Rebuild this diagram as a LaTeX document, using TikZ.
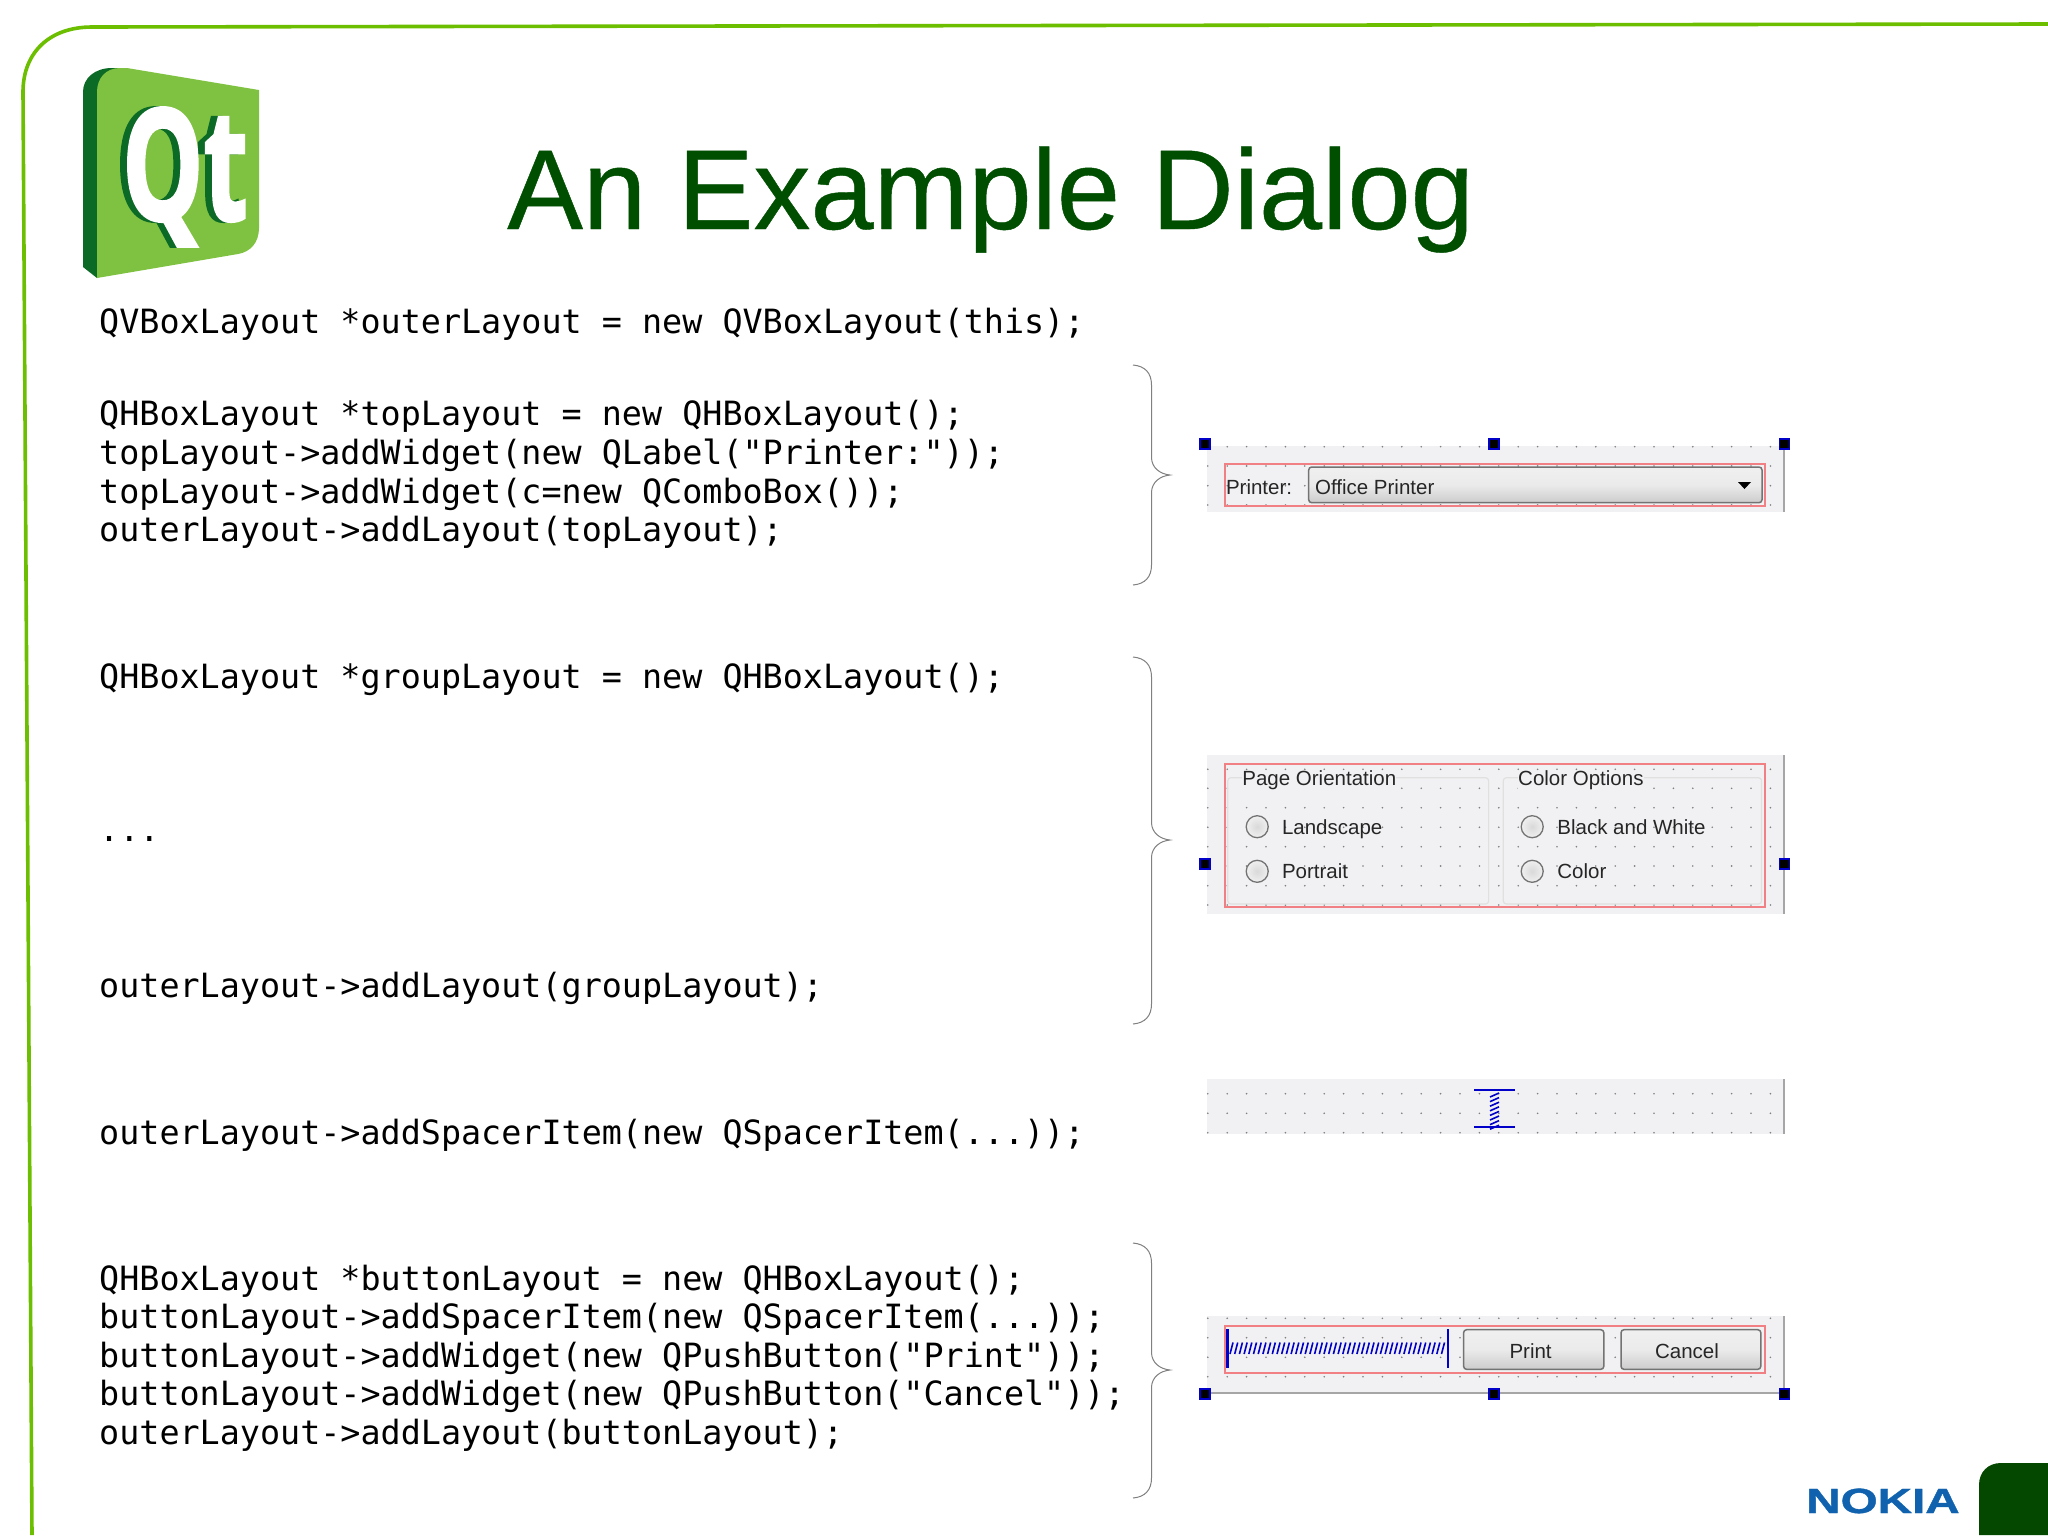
\documentclass[tikz,border=0pt]{standalone}
\usepackage{fontspec}
\setmainfont{Liberation Sans}
\setmonofont{DejaVu Sans Mono}
\newfontfamily\titlefont[FakeBold=.4]{Liberation Sans}
\newfontfamily\nokiafont[BoldFeatures={FakeBold=1}]{Liberation Sans}
\newfontfamily\logofont[BoldFeatures={FakeBold=2}]{Open Sans}
\definecolor{slidegreen}{HTML}{004F00}
\definecolor{framegreen}{HTML}{6CBE00}
\definecolor{logogreen}{HTML}{7FC241}
\definecolor{logodark}{HTML}{0B6A25}
\definecolor{tabgreen}{HTML}{044800}
\definecolor{nokiablue}{HTML}{1062AE}
\definecolor{panelgray}{HTML}{F1F1F3}
\definecolor{layoutred}{HTML}{F08084}
\definecolor{springblue}{HTML}{0000C8}
\tikzset{
    codeline/.style={anchor=base west, inner sep=0pt, font=\ttfamily\fontsize{33.4}{38.6}\selectfont},
    formtext/.style={anchor=base west, inner sep=0pt, text=black!85, font=\fontsize{20.5}{24}\selectfont},
    logotext/.style={anchor=base west, inner sep=0pt, transform shape, xscale=.66, font=\logofont\bfseries\fontsize{155}{155}\selectfont},
    curlybrace/.style={draw=gray, line width=1pt},
    griddot/.style={fill=black!50},
    panelbox/.style={fill=panelgray},
    panelline/.style={draw=black!35, line width=1.6pt},
    layoutbox/.style={draw=layoutred, line width=2pt},
    handlebox/.style={draw=springblue, fill=black, line width=1.6pt, minimum size=10pt, inner sep=0pt},
    pushbox/.style={draw=black!55, line width=1.5pt, rounded corners=3pt, top color=black!6, bottom color=black!20, middle color=black!8},
    groupbox/.style={draw=black!12, line width=1.2pt, rounded corners=3pt},
    radiobox/.style={circle, draw=black!55, line width=1.3pt, inner color=black!15, outer color=black!6, minimum size=22pt, inner sep=0pt},
    springline/.style={draw=springblue, line width=1.6pt},
}
% rows of the form grid, y values given in #1
\newcommand{\griddots}[1]{
    \foreach \y in {#1}
        \foreach \x in {0,...,29}
            \fill[griddot] (1207.8+\x*19.4,\y) circle (0.9);
}
% brace from top #1 to bottom #3, with its tip at #2
\newcommand{\codebrace}[3]{
    \draw[curlybrace] (1133,#1) .. controls (1145,#1+1) and (1151.5,#1+8) .. (1151.5,#1+20)
        -- (1151.5,#2-17) .. controls (1152,#2-7) and (1160,#2-1) .. (1170,#2)
        .. controls (1160,#2+1) and (1152,#2+7) .. (1151.5,#2+17)
        -- (1151.5,#3-20) .. controls (1151.5,#3-8) and (1145,#3-1) .. (1133,#3);
}
\begin{document}
\begin{tikzpicture}[x=1pt,y=-1pt]
    \useasboundingbox (0,0) rectangle (2048,1535);
    \fill[white] (0,0) rectangle (2048,1535);

    % slide frame
    \draw[framegreen, line width=3.6pt] (32,1535) -- (23,92) .. controls (23,52) and (50,27) .. (92,27) -- (2048,24);
    \fill[tabgreen] (2048,1535) -- (1979,1535) -- (1979,1485) .. controls (1979,1472) and (1988,1463) .. (2001,1463) -- (2048,1463) -- cycle;
    \node[anchor=base west, inner sep=0pt, text=nokiablue, transform shape, xscale=1.36, font=\nokiafont\bfseries\fontsize{35}{35}\selectfont] (nokia) at (1806,1513) {NOKIA};

    % logo
    \fill[logodark] (83,267) -- (83,92) .. controls (83,78) and (95,68) .. (112,68) -- (120,68) -- (97,278) -- cycle;
    \fill[logogreen] (97,278) -- (97,92) .. controls (97,78) and (106,68) .. (120,68) -- (127,68) -- (259,90) -- (259,228) .. controls (259,243) and (250,252) .. (238,254) -- cycle;
    \node[logotext, text=logodark] (qtshadow) at (115,220) {Qt};
    \node[logotext, text=white] (qt) at (122,220) {Qt};

    \node[anchor=base west, inner sep=0pt, text=slidegreen, font=\titlefont\fontsize{113.7}{113.7}\selectfont] (title) at (507,229) {An Example Dialog};

    % code
    \node[codeline] (outer) at (99,333) {QVBoxLayout *outerLayout = new QVBoxLayout(this);};

    \node[codeline] (top1) at (99,425.5) {QHBoxLayout *topLayout = new QHBoxLayout();};
    \node[codeline] (top2) at (99,464.1) {topLayout->addWidget(new QLabel("Printer:"));};
    \node[codeline] (top3) at (99,503) {topLayout->addWidget(c=new QComboBox());};
    \node[codeline] (top4) at (99,541.5) {outerLayout->addLayout(topLayout);};

    \node[codeline] (group1) at (99,688) {QHBoxLayout *groupLayout = new QHBoxLayout();};
    \node[codeline] (group2) at (99,841) {...};
    \node[codeline] (group3) at (99,997.5) {outerLayout->addLayout(groupLayout);};

    \node[codeline] (spacer) at (99,1144) {outerLayout->addSpacerItem(new QSpacerItem(...));};

    \node[codeline] (button1) at (99,1290) {QHBoxLayout *buttonLayout = new QHBoxLayout();};
    \node[codeline] (button2) at (99,1328.6) {buttonLayout->addSpacerItem(new QSpacerItem(...));};
    \node[codeline] (button3) at (99,1367.2) {buttonLayout->addWidget(new QPushButton("Print"));};
    \node[codeline] (button4) at (99,1405.8) {buttonLayout->addWidget(new QPushButton("Cancel"));};
    \node[codeline] (button5) at (99,1444.4) {outerLayout->addLayout(buttonLayout);};

    \codebrace{365}{475}{585}
    \codebrace{657}{840}{1024}
    \codebrace{1243}{1370}{1498}

    % printer row
    \fill[panelbox] (1207,446) rectangle (1784,512);
    \griddots{446.7,466,485.7,505}
    \draw[panelline] (1784,446) -- (1784,512);
    \draw[layoutbox] (1225.4,464) rectangle (1764.8,505.7);
    \draw[pushbox] (1308.7,467) rectangle (1762,502.7);
    \fill[black] (1738,482) -- (1751,482) -- (1744.5,489) -- cycle;
    \node[formtext] (printer) at (1225.8,494) {Printer:};
    \node[formtext] (combo) at (1314.9,494) {Office Printer};
    \node[handlebox] (h1) at (1205.1,443.7) {};
    \node[handlebox] (h2) at (1493.9,443.7) {};
    \node[handlebox] (h3) at (1784.4,443.7) {};

    % option groups
    \fill[panelbox] (1207,755) rectangle (1784,914);
    \griddots{769.3,788.3,807.7,827.3,846.7,866,885.7,905}
    \draw[panelline] (1784,755) -- (1784,914);
    \draw[layoutbox] (1225.4,764) rectangle (1764.8,907.3);
    \draw[groupbox] (1227.8,777.7) rectangle (1488.6,904);
    \draw[groupbox] (1503.3,777.7) rectangle (1761.5,904);
    \node[formtext, fill=panelgray] (pagegroup) at (1242.2,785.7) {Page Orientation};
    \node[formtext, fill=panelgray] (colorgroup) at (1518,785.7) {Color Options};
    \node[radiobox] (r1) at (1257.2,826.7) {};
    \node[radiobox] (r2) at (1257.2,871.3) {};
    \node[radiobox] (r3) at (1532.2,826.7) {};
    \node[radiobox] (r4) at (1532.2,871.3) {};
    \node[formtext] (landscape) at (1281.8,834) {Landscape};
    \node[formtext] (portrait) at (1281.8,878.7) {Portrait};
    \node[formtext] (blackwhite) at (1557.2,834) {Black and White};
    \node[formtext] (colour) at (1557.2,878.7) {Color};
    \node[handlebox] (h4) at (1205.1,863.7) {};
    \node[handlebox] (h5) at (1784.4,863.7) {};

    % vertical spacer
    \fill[panelbox] (1207,1079) rectangle (1784,1134);
    \griddots{1093.7,1113.3,1132.7}
    \draw[panelline] (1784,1079) -- (1784,1134);
    \draw[springline, line width=2pt] (1474.2,1089.7) -- (1515.1,1089.7);
    \draw[springline, line width=2pt] (1474.2,1126.7) -- (1515.1,1126.7);
    \foreach \y in {0,...,7}
        \draw[springline] (1490,1097+\y*4.6) -- (1499,1093+\y*4.6);

    % button row
    \fill[panelbox] (1207,1316) rectangle (1784,1392.7);
    \griddots{1318.3,1337.7,1357.3,1376.7}
    \draw[panelline] (1784,1316) -- (1784,1392.7) -- (1207,1392.7);
    \draw[layoutbox] (1225.4,1326) rectangle (1764.8,1373.3);
    \draw[springline, line width=2.6pt] (1227.4,1329) -- (1227.4,1368.3);
    \draw[springline] (1447.9,1329) -- (1447.9,1368.3);
    \foreach \x in {0,...,45}
        \draw[springline] (1230+\x*4.7,1354) -- (1233+\x*4.7,1342.5);
    \draw[pushbox] (1463.6,1329.7) rectangle (1603.8,1369.3);
    \draw[pushbox] (1621,1329.7) rectangle (1760.8,1369.3);
    \node[formtext, anchor=base] (print) at (1530.6,1358.3) {Print};
    \node[formtext, anchor=base] (cancel) at (1687,1358.3) {Cancel};
    \node[handlebox] (h6) at (1205.1,1394) {};
    \node[handlebox] (h7) at (1493.9,1394) {};
    \node[handlebox] (h8) at (1784.4,1394) {};
\end{tikzpicture}
\end{document}
